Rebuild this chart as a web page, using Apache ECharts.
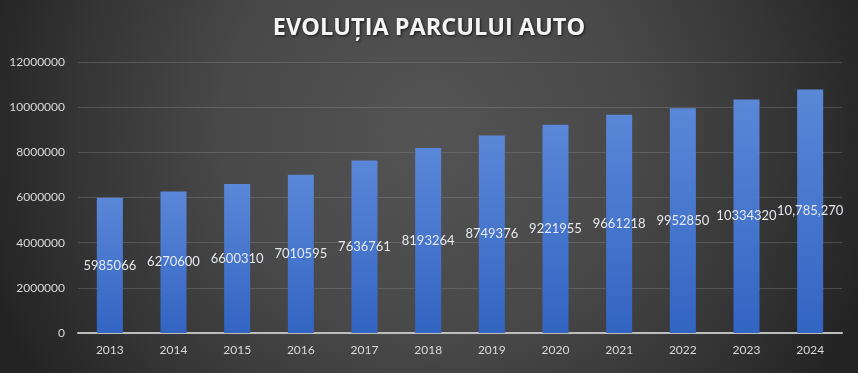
<!DOCTYPE html>
<html><head><meta charset="utf-8">
<script src="https://cdn.jsdelivr.net/npm/echarts@6/dist/echarts.min.js"></script>
<style>html,body{margin:0;padding:0;background:#333;}#c{width:858px;height:373px;}</style>
</head><body><div id="c"></div>
<script>
const categories = ['2013','2014','2015','2016','2017','2018','2019','2020','2021','2022','2023','2024'];
const values = [5985066, 6270600, 6600310, 7010595, 7636761, 8193264, 8749376, 9221955, 9661218, 9952850, 10334320, 10785270];
const valueLabels = ['5985066','6270600','6600310','7010595','7636761','8193264','8749376','9221955','9661218','9952850','10334320','10,785,270'];
const titleText = 'EVOLUȚIA PARCULUI AUTO';

const chart = echarts.init(document.getElementById('c'), null, {renderer:'canvas'});
const font = 'Lato, "Open Sans", sans-serif';
chart.setOption({
  animation:false,
  backgroundColor:{type:'radial',x:0.5,y:0.35,r:1.25,colorStops:[
    {offset:0,color:'#545454'},{offset:0.45,color:'#484848'},{offset:0.75,color:'#353535'},{offset:1,color:'#232323'}]},
  title:{text:titleText,left:'center',top:11,
    textStyle:{color:'#f4f4f4',fontSize:23.5,fontWeight:'bold',fontFamily:'"Open Sans", Lato, sans-serif',
      textShadowColor:'rgba(0,0,0,0.7)',textShadowBlur:3,textShadowOffsetX:1,textShadowOffsetY:1}},
  grid:{left:78,right:16,top:62,bottom:40,containLabel:false},
  xAxis:{type:'category',data:categories,
    axisLine:{lineStyle:{color:'#bdbdbd',width:2}},
    axisTick:{show:false},
    axisLabel:{color:'#d9d9d9',fontSize:12,fontFamily:font,margin:11}},
  yAxis:{type:'value',min:0,max:12000000,interval:2000000,
    axisLine:{show:false},axisTick:{show:false},
    splitLine:{lineStyle:{color:'rgba(140,140,140,0.35)',width:1}},
    axisLabel:{color:'#d9d9d9',fontSize:12,fontFamily:font,margin:13,formatter:v=>String(v)}},
  series:[{type:'bar',data:values,barWidth:26,
    itemStyle:{color:{type:'linear',x:0,y:0,x2:0,y2:1,colorStops:[
      {offset:0,color:'#5b87d8'},{offset:1,color:'#3264c2'}]}},
    label:{show:true,position:'inside',color:'#e6e9ef',fontSize:13,fontFamily:font,
      formatter:p=>valueLabels[p.dataIndex]}}]
});
</script></body></html>
